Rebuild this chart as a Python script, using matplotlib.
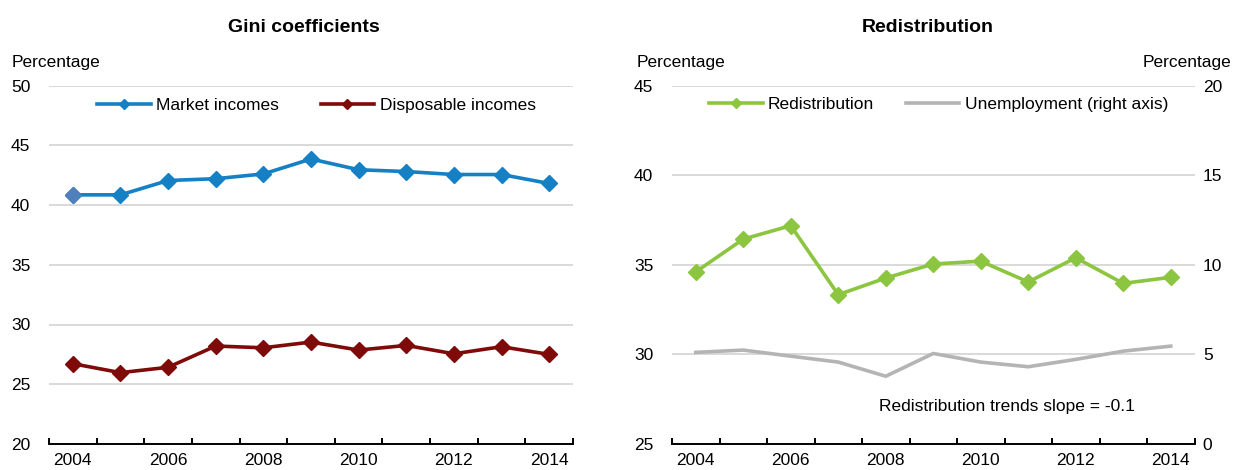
"""
Gini coefficients and redistribution, two panels.
"""
# Third party
import matplotlib.pyplot as plt
from matplotlib.lines import Line2D
from matplotlib.ticker import FixedLocator, MultipleLocator

plt.rcParams["font.family"] = ["Liberation Sans", "DejaVu Sans"]
#
YEARS: list = ["2004", "2005", "2006", "2007", "2008", "2009",
               "2010", "2011", "2012", "2013", "2014"]
MARKET: list = [40.85, 40.85, 42.05, 42.2, 42.6, 43.85,
                42.95, 42.8, 42.55, 42.55, 41.8]
DISPOSABLE: list = [26.72, 25.97, 26.42, 28.2, 28.05, 28.53,
                    27.86, 28.25, 27.55, 28.14, 27.5]
REDISTRIBUTION: list = [34.6, 36.43, 37.18, 33.33, 34.26, 35.04,
                        35.2, 34.04, 35.39, 33.96, 34.3]
UNEMPLOYMENT: list = [5.11, 5.24, 4.9, 4.57, 3.78, 5.05,
                      4.57, 4.31, 4.72, 5.18, 5.46]

BLUE: str = "#1580C4"
BLUE_FIRST: str = "#4F7FBD"
DARK_RED: str = "#7F0A0A"
GREEN: str = "#8CC540"
GREY: str = "#B4B4B4"
GRID: str = "#D9D9D9"
FS: float = 12.5
LW: float = 2.6
WIDTH: float = 12.37
HEIGHT: float = 4.70


def style_axis(ax, ymin, ymax) -> None:
    n = len(YEARS)
    ax.set_xlim(-0.5, n - 0.5)
    ax.set_ylim(ymin, ymax)
    ax.yaxis.set_major_locator(MultipleLocator(5))
    ax.tick_params(axis="y", length=0, pad=13.5, labelsize=FS)
    ax.grid(axis="y", color=GRID, linewidth=1.4)
    ax.set_axisbelow(True)
    for side in ("top", "right", "left"):
        ax.spines[side].set_visible(False)
    ax.spines["bottom"].set_linewidth(1.4)
    # tick marks between categories, labels every other year
    ax.xaxis.set_major_locator(FixedLocator([i - 0.5 for i in range(n + 1)]))
    ax.xaxis.set_minor_locator(FixedLocator(list(range(0, n, 2))))
    ax.xaxis.set_major_formatter(plt.NullFormatter())
    ax.xaxis.set_minor_formatter(
        plt.FixedFormatter([YEARS[i] for i in range(0, n, 2)]))
    ax.tick_params(axis="x", which="major", direction="in", length=4.5,
                   width=1.4)
    ax.tick_params(axis="x", which="minor", length=0, pad=6.5, labelsize=FS)


def gini_panel(fig) -> None:
    ax = fig.add_axes([49 / 1237, 26 / 470, 524 / 1237, 358.5 / 470])
    xs = list(range(len(YEARS)))
    ax.plot(xs, MARKET, color=BLUE, lw=LW, marker="D", ms=7.8,
            label="Market incomes")
    ax.plot(xs[:1], MARKET[:1], color=BLUE_FIRST, marker="D", ms=8.2, lw=0)
    ax.plot(xs, DISPOSABLE, color=DARK_RED, lw=LW, marker="D", ms=7.8,
            label="Disposable incomes")
    style_axis(ax, 20, 50)
    ax.legend(loc="center left", bbox_to_anchor=(0.0916, 0.9456),
              borderaxespad=0, borderpad=0, frameon=False, ncol=2,
              fontsize=FS, handlelength=3.1, handletextpad=0.3,
              columnspacing=2.4, markerscale=0.6)
    fig.text(304 / 1237, 1 - 27 / 470, "Gini coefficients", ha="center",
             va="center", fontsize=14, fontweight="bold")
    fig.text(12 / 1237, 1 - 62 / 470, "Percentage", ha="left",
             va="center", fontsize=FS)


def redistribution_panel(fig) -> None:
    ax = fig.add_axes([672 / 1237, 26 / 470, 522.5 / 1237, 358.5 / 470])
    xs = list(range(len(YEARS)))
    ax.plot(xs, REDISTRIBUTION, color=GREEN, lw=LW, marker="D", ms=7.8)
    style_axis(ax, 25, 45)
    ax2 = ax.twinx()
    ax2.plot(xs, UNEMPLOYMENT, color=GREY, lw=LW)
    ax2.set_ylim(0, 20)
    ax2.yaxis.set_major_locator(MultipleLocator(5))
    ax2.tick_params(axis="y", length=0, pad=6, labelsize=FS)
    for side in ("top", "right", "left", "bottom"):
        ax2.spines[side].set_visible(False)
    handles = [
        Line2D([], [], color=GREEN, lw=LW, marker="D", ms=4.7),
        Line2D([], [], color=GREY, lw=LW),
    ]
    ax.legend(handles, ["Redistribution", "Unemployment (right axis)"],
              loc="center left", bbox_to_anchor=(0.0708, 0.948),
              borderaxespad=0, borderpad=0, frameon=False, ncol=2,
              fontsize=FS, handlelength=3.1, handletextpad=0.3,
              columnspacing=1.8)
    ax.text(0.396, 0.104, "Redistribution trends slope = -0.1",
            transform=ax.transAxes, ha="left", va="center", fontsize=FS)
    fig.text(928 / 1237, 1 - 27 / 470, "Redistribution", ha="center",
             va="center", fontsize=14, fontweight="bold")
    fig.text(637 / 1237, 1 - 62 / 470, "Percentage", ha="left",
             va="center", fontsize=FS)
    fig.text(1231 / 1237, 1 - 62 / 470, "Percentage", ha="right",
             va="center", fontsize=FS)


def main() -> None:
    fig = plt.figure(figsize=(WIDTH, HEIGHT), dpi=100)
    gini_panel(fig)
    redistribution_panel(fig)
    fig.savefig("out.png", dpi=100)


if __name__ == "__main__":
    main()
